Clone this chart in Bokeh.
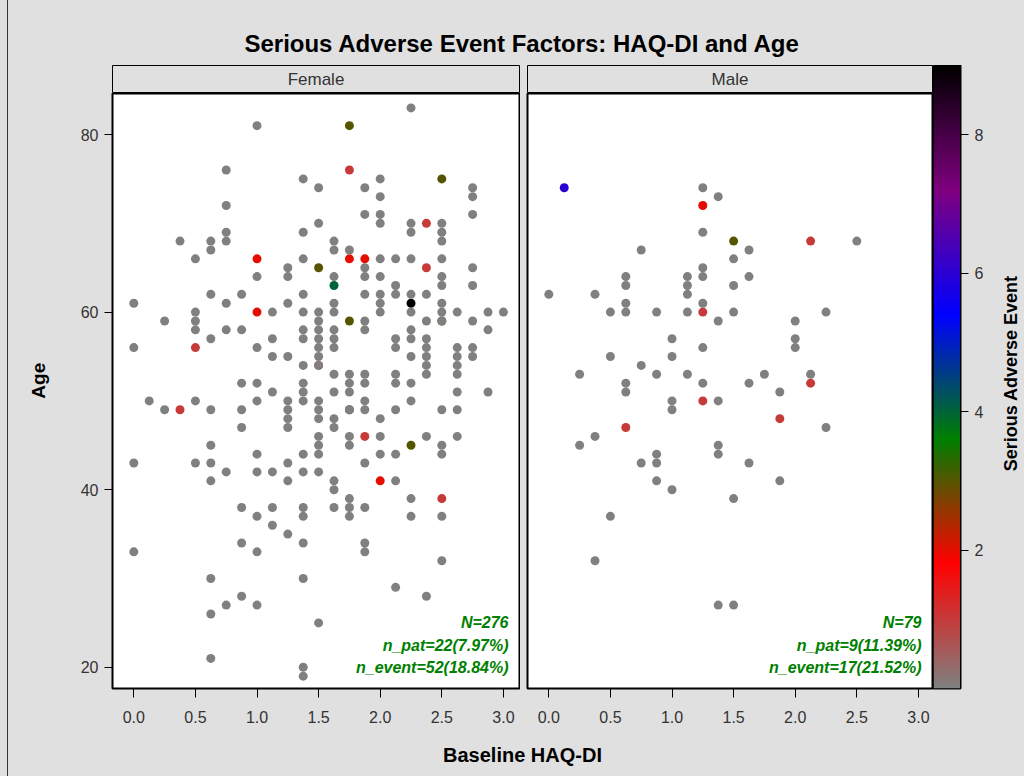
import numpy as np
from bokeh.plotting import figure
from bokeh.layouts import row, column
from bokeh.models import (Range1d, FixedTicker, PrintfTickFormatter, LinearColorMapper,
                          Label, ColumnDataSource)
from bokeh.embed import file_html
from bokeh.resources import INLINE

# ---------------- data ----------------
# Female, no serious adverse event (count 0)
f_haq = [
    0.0, 0.0, 0.0, 0.0,
    0.125,
    0.25, 0.25,
    0.375,
    0.5, 0.5, 0.5, 0.5, 0.5, 0.5,
    0.625, 0.625, 0.625, 0.625, 0.625, 0.625, 0.625, 0.625, 0.625, 0.625, 0.625,
    0.75, 0.75, 0.75, 0.75, 0.75, 0.75, 0.75, 0.75,
    0.875, 0.875, 0.875, 0.875, 0.875, 0.875, 0.875, 0.875,
    1.0, 1.0, 1.0, 1.0, 1.0, 1.0, 1.0, 1.0, 1.0, 1.0,
    1.125, 1.125, 1.125, 1.125, 1.125, 1.125, 1.125,
    1.25, 1.25, 1.25, 1.25, 1.25, 1.25, 1.25, 1.25, 1.25, 1.25, 1.25,
    1.375, 1.375, 1.375, 1.375, 1.375, 1.375, 1.375, 1.375, 1.375, 1.375, 1.375, 1.375, 1.375, 1.375, 1.375, 1.375, 1.375, 1.375, 1.375,
    1.5, 1.5, 1.5, 1.5, 1.5, 1.5, 1.5, 1.5, 1.5, 1.5, 1.5, 1.5, 1.5, 1.5, 1.5, 1.5, 1.5,
    1.625, 1.625, 1.625, 1.625, 1.625, 1.625, 1.625, 1.625, 1.625, 1.625, 1.625, 1.625, 1.625, 1.625, 1.625,
    1.75, 1.75, 1.75, 1.75, 1.75, 1.75, 1.75, 1.75, 1.75, 1.75,
    1.875, 1.875, 1.875, 1.875, 1.875, 1.875, 1.875, 1.875, 1.875, 1.875, 1.875, 1.875, 1.875, 1.875, 1.875,
    2.0, 2.0, 2.0, 2.0, 2.0, 2.0, 2.0, 2.0, 2.0, 2.0, 2.0, 2.0,
    2.125, 2.125, 2.125, 2.125, 2.125, 2.125, 2.125, 2.125, 2.125, 2.125, 2.125,
    2.25, 2.25, 2.25, 2.25, 2.25, 2.25, 2.25, 2.25, 2.25, 2.25, 2.25, 2.25, 2.25,
    2.375, 2.375, 2.375, 2.375, 2.375, 2.375, 2.375, 2.375, 2.375,
    2.5, 2.5, 2.5, 2.5, 2.5, 2.5, 2.5, 2.5, 2.5, 2.5, 2.5, 2.5, 2.5, 2.5,
    2.625, 2.625, 2.625, 2.625, 2.625, 2.625, 2.625, 2.625,
    2.75, 2.75, 2.75, 2.75, 2.75, 2.75, 2.75, 2.75,
    2.875, 2.875, 2.875,
    3.0,
]
f_age = [
    61, 56, 43, 33,
    50,
    59, 49,
    68,
    66, 60, 59, 58, 50, 43,
    68, 67, 62, 57, 49, 45, 43, 41, 30, 26, 21,
    76, 72, 69, 68, 61, 58, 42, 27,
    62, 58, 52, 49, 47, 38, 34, 28,
    81, 64, 56, 52, 50, 44, 42, 37, 33, 27,
    60, 57, 55, 51, 42, 38, 36,
    65, 64, 61, 55, 50, 49, 48, 47, 43, 41, 35,
    75, 69, 66, 62, 60, 58, 57, 54, 52, 51, 50, 44, 42, 38, 37, 34, 30, 20, 19,
    74, 70, 60, 59, 58, 57, 56, 55, 54, 50, 49, 48, 46, 45, 44, 42, 25,
    68, 67, 64, 61, 60, 58, 57, 56, 53, 51, 48, 47, 41, 40, 38,
    67, 53, 52, 51, 49, 46, 45, 39, 38, 37,
    74, 71, 65, 64, 62, 59, 58, 53, 52, 50, 49, 43, 38, 34, 33,
    75, 73, 71, 70, 66, 64, 62, 61, 60, 48, 46, 44,
    66, 63, 62, 57, 56, 53, 52, 49, 44, 41, 29,
    83, 70, 69, 66, 62, 60, 58, 57, 55, 52, 50, 39, 37,
    62, 59, 57, 56, 55, 54, 53, 46, 28,
    70, 69, 68, 66, 64, 63, 61, 60, 59, 49, 45, 44, 37, 32,
    60, 56, 55, 54, 53, 51, 49, 46,
    74, 73, 71, 65, 63, 59, 56, 55,
    60, 58, 51,
    60,
]
# Female patients with serious adverse events
f_ev_haq = [1.75, 1.75, 2.5, 2.375, 1.0, 1.75, 1.875, 1.5, 2.375, 1.625, 2.25,
            1.0, 1.75, 0.5, 1.5, 0.375, 2.25, 1.875, 2.0, 2.5, 2.5, 1.75]
f_ev_age = [81, 76, 75, 70, 66, 66, 66, 65, 65, 63, 61,
            60, 59, 56, 54, 49, 45, 46, 41, 39, 59, 49]
f_ev_n = [3, 1, 3, 1, 2, 2, 2, 3, 1, 4, 9,
          2, 3, 1, 1, 1, 3, 1, 2, 1, 3, 3]

# Male, no serious adverse event
m_haq = [
    0.0,
    0.25, 0.25,
    0.375, 0.375, 0.375,
    0.5, 0.5, 0.5,
    0.625, 0.625, 0.625, 0.625, 0.625, 0.625,
    0.75, 0.75, 0.75,
    0.875, 0.875, 0.875, 0.875, 0.875,
    1.0, 1.0, 1.0, 1.0, 1.0,
    1.125, 1.125, 1.125, 1.125, 1.125,
    1.25, 1.25, 1.25, 1.25, 1.25, 1.25, 1.25,
    1.375, 1.375, 1.375, 1.375, 1.375, 1.375,
    1.5, 1.5, 1.5, 1.5, 1.5,
    1.625, 1.625, 1.625, 1.625,
    1.75,
    1.875, 1.875,
    2.0, 2.0, 2.0,
    2.125,
    2.25, 2.25,
    2.5,
]
m_age = [
    62,
    53, 45,
    62, 46, 32,
    60, 55, 37,
    64, 63, 61, 60, 52, 51,
    67, 54, 43,
    60, 53, 44, 43, 41,
    57, 55, 50, 49, 40,
    64, 63, 62, 60, 53,
    74, 69, 65, 64, 61, 56, 52,
    73, 59, 50, 45, 44, 27,
    66, 63, 60, 39, 27,
    67, 64, 52, 43,
    53,
    51, 41,
    59, 57, 56,
    53,
    60, 47,
    68,
]
m_ev_haq = [0.125, 1.25, 1.5, 2.125, 1.25, 0.625, 1.25, 2.125, 1.875]
m_ev_age = [74, 72, 68, 68, 60, 47, 50, 52, 48]
m_ev_n = [6, 2, 3, 1, 1, 1, 1, 1, 1]

f_notes = ["N=276", "n_pat=22(7.97%)", "n_event=52(18.84%)"]
m_notes = ["N=79", "n_pat=9(11.39%)", "n_event=17(21.52%)"]

x_ticks = [0.0, 0.5, 1.0, 1.5, 2.0, 2.5, 3.0]
y_ticks = [20, 40, 60, 80]
cb_ticks = [2, 4, 6, 8]

# ---------------- style ----------------
BG = "#e0e0e0"
FONT = "Liberation Sans"
TICK_FS = "16px"
TXT = "#333333"

ramp_pos = [0.0, 1.8, 3.6, 5.4, 7.2, 9.0]
ramp_rgb = [(128, 128, 128), (255, 0, 0), (0, 128, 0), (0, 0, 255), (128, 0, 128), (0, 0, 0)]
lv = np.linspace(0, 9, 256)
chan = [np.interp(lv, ramp_pos, [c[i] for c in ramp_rgb]) for i in range(3)]
palette = ["#%02x%02x%02x" % (int(round(r)), int(round(g)), int(round(b)))
           for r, g, b in zip(*chan)]
mapper = LinearColorMapper(palette=palette, low=0, high=9)

PXU = 123.2          # px per HAQ unit
XLO = -0.173
YLO, YHI = 17.61, 84.62
ROW_H = 642          # panel figure height (frame 595 + bottom 47)
HDR_H = 28
STY = {"background-color": BG}
# page background with the outer border line at x = 7
STY_OUT = {"background": "linear-gradient(to right, %s 0px, %s 7px, #333333 7px, "
                         "#333333 8px, %s 8px)" % (BG, BG, BG)}
SIDE_W = 60          # left strip ("Age")
RIGHT_W = 27         # right strip (colour bar title)


def style_frame(p):
    p.background_fill_color = "white"
    p.border_fill_color = BG
    p.outline_line_color = "black"
    p.outline_line_width = 2
    p.grid.visible = False


def make_header(text, width, left):
    h = figure(width=width, height=HDR_H, x_range=Range1d(0, 1), y_range=Range1d(0, 1),
               output_backend="svg", toolbar_location=None,
               x_axis_location=None, y_axis_location=None,
               min_border_left=left, min_border_right=1, min_border_top=0, min_border_bottom=0)
    h.background_fill_color = BG
    h.border_fill_color = BG
    h.outline_line_color = "black"
    h.outline_line_width = 1
    h.grid.visible = False
    h.add_layout(Label(x=0.5, y=0.5, text=text, text_align="center", text_baseline="middle",
                       text_font=FONT, text_font_size="17px", text_color=TXT))
    return h


def make_panel(gh, ga, eh, ea, en, notes, width, left, show_y):
    frame_w = width - left - 1
    p = figure(width=width, height=ROW_H,
               x_range=Range1d(XLO, XLO + frame_w / PXU), y_range=Range1d(YLO, YHI),
               output_backend="svg", toolbar_location=None,
               y_axis_location="left" if show_y else None,
               min_border_left=left, min_border_right=1, min_border_top=0, min_border_bottom=47)
    style_frame(p)
    ev = ColumnDataSource(dict(haq=eh, age=ea, sae=en))
    gr = ColumnDataSource(dict(haq=gh, age=ga, sae=[0] * len(gh)))
    p.scatter("haq", "age", source=ev, size=9, line_color=None,
              fill_color={"field": "sae", "transform": mapper})
    p.scatter("haq", "age", source=gr, size=9, line_color=None,
              fill_color={"field": "sae", "transform": mapper})
    axes = [p.xaxis[0]] + ([p.yaxis[0]] if show_y else [])
    for ax in axes:
        ax.axis_line_color = "black"
        ax.major_tick_line_color = "black"
        ax.major_tick_out = 9
        ax.major_tick_in = 0
        ax.minor_tick_line_color = None
        ax.major_label_text_font = FONT
        ax.major_label_text_font_size = TICK_FS
        ax.major_label_text_color = TXT
    p.xaxis.ticker = FixedTicker(ticks=x_ticks)
    p.xaxis.formatter = PrintfTickFormatter(format="%.1f")
    p.xaxis.major_label_standoff = 13
    if show_y:
        p.yaxis.ticker = FixedTicker(ticks=y_ticks)
        p.yaxis.major_tick_out = 8
        p.yaxis.major_label_standoff = 6
    xr = XLO + (width - left - 1) / PXU
    note_x = xr - 11 / PXU
    for t, yy in zip(notes, [25.0, 22.5, 20.0]):
        p.add_layout(Label(x=note_x, y=yy, text=t, text_align="right", text_baseline="middle",
                           text_font=FONT, text_font_size="16px", text_font_style="bold italic",
                           text_color="#008000"))
    return p


def strip(width, height):
    # transparent strip: the layout background (with the border line) shows through
    s = figure(width=width, height=height, x_range=Range1d(0, width), y_range=Range1d(0, height),
               output_backend="svg", toolbar_location=None,
               x_axis_location=None, y_axis_location=None,
               min_border_left=0, min_border_right=0, min_border_top=0, min_border_bottom=0)
    s.background_fill_alpha = 0
    s.border_fill_alpha = 0
    s.outline_line_color = None
    s.grid.visible = False
    return s


hf = make_header("Female", 520 - SIDE_W, 112 - SIDE_W)
hm = make_header("Male", 413, 7)
pf = make_panel(f_haq, f_age, f_ev_haq, f_ev_age, f_ev_n, f_notes, 520 - SIDE_W, 112 - SIDE_W, True)
pm = make_panel(m_haq, m_age, m_ev_haq, m_ev_age, m_ev_n, m_notes, 413, 7, False)

# colour bar
CB_W = 1024 - 933 - RIGHT_W
cb = figure(width=CB_W, height=ROW_H + HDR_H, x_range=Range1d(0, 1), y_range=Range1d(0, 9),
            output_backend="svg", toolbar_location=None,
            x_axis_location=None, y_axis_location="right",
            min_border_left=0, min_border_right=CB_W - 27, min_border_top=0, min_border_bottom=47)
style_frame(cb)
cb.image(image=[np.linspace(0, 9, 256).reshape(-1, 1)], x=0, y=0, dw=1, dh=9, color_mapper=mapper)
ya = cb.yaxis[0]
ya.ticker = FixedTicker(ticks=cb_ticks)
ya.axis_line_color = "black"
ya.major_tick_line_color = "black"
ya.major_tick_out = 8
ya.major_tick_in = 0
ya.minor_tick_line_color = None
ya.major_label_text_font = FONT
ya.major_label_text_font_size = TICK_FS
ya.major_label_text_color = TXT
ya.major_label_standoff = 6

RH = ROW_H + HDR_H   # row height; row starts at page y = 65
side = strip(SIDE_W, RH)
side.add_layout(Label(x=38, y=RH - (404 - 65), text="Age", angle=np.pi / 2,
                      text_align="center", text_baseline="middle", text_font=FONT,
                      text_font_size="19px", text_font_style="bold", text_color="black"))
rside = strip(RIGHT_W, RH)
rside.add_layout(Label(x=1010 - (1024 - RIGHT_W), y=RH - (396 - 65), text="Serious Adverse Event",
                       angle=np.pi / 2, text_align="center", text_baseline="middle",
                       text_font=FONT, text_font_size="18px", text_font_style="bold",
                       text_color="black"))

top = strip(1024, 65)
top.add_layout(Label(x=522, y=22, text="Serious Adverse Event Factors: HAQ-DI and Age",
                     text_align="center", text_baseline="middle", text_font=FONT,
                     text_font_size="24px", text_font_style="bold", text_color="black"))
bot = strip(1024, 41)
bot.add_layout(Label(x=522, y=22, text="Baseline HAQ-DI", text_align="center",
                     text_baseline="middle", text_font=FONT, text_font_size="20px",
                     text_font_style="bold", text_color="black"))

layout = column(top,
                row(side, column(hf, pf, styles=STY), column(hm, pm, styles=STY), cb, rside,
                    styles=STY_OUT),
                bot, styles=STY_OUT)
open("out.html", "w").write(file_html(layout, INLINE))
